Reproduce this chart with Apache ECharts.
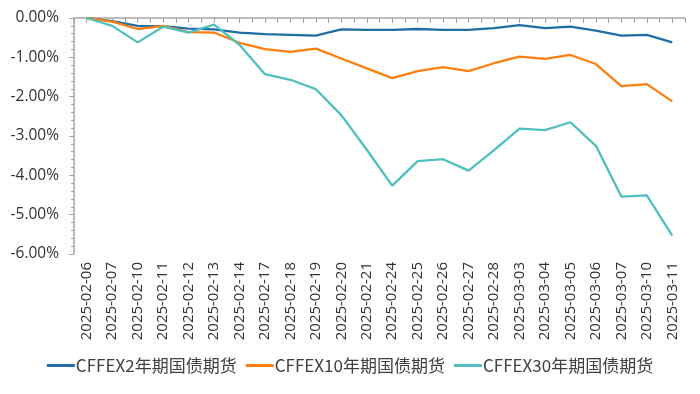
<!DOCTYPE html>
<html>
<head>
<meta charset="utf-8">
<script src="https://cdn.jsdelivr.net/npm/echarts@6/dist/echarts.min.js"></script>
<style>
html,body{margin:0;padding:0;background:#fff;}
#chart{width:700px;height:394px;}
</style>
</head>
<body>
<div id="chart"></div>
<script>
var dates = ['2025-02-06','2025-02-07','2025-02-10','2025-02-11','2025-02-12','2025-02-13','2025-02-14','2025-02-17','2025-02-18','2025-02-19','2025-02-20','2025-02-21','2025-02-24','2025-02-25','2025-02-26','2025-02-27','2025-02-28','2025-03-03','2025-03-04','2025-03-05','2025-03-06','2025-03-07','2025-03-10','2025-03-11'];
var seriesNames = ['CFFEX2年期国债期货','CFFEX10年期国债期货','CFFEX30年期国债期货'];
var y2 = [0,-0.08,-0.20,-0.21,-0.27,-0.29,-0.37,-0.41,-0.43,-0.45,-0.29,-0.30,-0.30,-0.28,-0.30,-0.30,-0.26,-0.18,-0.26,-0.22,-0.32,-0.45,-0.43,-0.62];
var y10 = [0,-0.09,-0.28,-0.20,-0.36,-0.37,-0.63,-0.79,-0.86,-0.78,-1.03,-1.28,-1.53,-1.35,-1.25,-1.35,-1.15,-0.98,-1.04,-0.94,-1.17,-1.73,-1.68,-2.12];
var y30 = [0,-0.20,-0.62,-0.22,-0.37,-0.17,-0.68,-1.43,-1.57,-1.81,-2.47,-3.35,-4.26,-3.64,-3.59,-3.88,-3.36,-2.81,-2.85,-2.65,-3.25,-4.54,-4.51,-5.53];
var yTicks = {min:-6, max:0, interval:1};
var colors = ['#1f6ea6','#ff7f0e','#4fbfbf'];

var axisColor = '#a6a6a6';
var labelColor = '#333333';
var chart = echarts.init(document.getElementById('chart'), null, {renderer:'canvas'});
chart.setOption({
  animation:false,
  color: colors,
  grid:{left:74, right:15, top:18, bottom:140, containLabel:false},
  legend:{
    bottom:15, left:'center',
    icon:'rect', itemWidth:28, itemHeight:3, itemGap:9,
    textStyle:{fontFamily:'Noto Sans CJK SC', fontSize:17, color:'#404040', padding:[0,0,0,-4]},
    data: seriesNames
  },
  xAxis:[{
    type:'category', data:dates, position:'bottom', boundaryGap:true,
    axisLine:{show:false, onZero:false}, axisTick:{show:false},
    axisLabel:{rotate:90, margin:8, fontFamily:'Open Sans', fontSize:15, color:labelColor}
  },{
    type:'value', position:'top', min:0, max:dates.length*2, interval:1,
    axisLine:{show:true, onZero:false, lineStyle:{color:axisColor, width:1.5}},
    axisTick:{show:true, inside:true, length:5, lineStyle:{color:axisColor}},
    axisLabel:{show:false}, splitLine:{show:false}
  }],
  yAxis:{
    type:'value', min:yTicks.min, max:yTicks.max, interval:yTicks.interval,
    axisLine:{show:true, lineStyle:{color:axisColor, width:1.5}},
    axisTick:{show:true, length:5, lineStyle:{color:axisColor}},
    minorTick:{show:true, splitNumber:5, length:3, lineStyle:{color:axisColor}},
    splitLine:{show:false},
    axisLabel:{margin:15, fontFamily:'Open Sans', fontSize:15.5, color:labelColor,
      formatter:function(v){return v.toFixed(2)+'%';}}
  },
  series:[
    {name:seriesNames[0], type:'line', data:y2, symbol:'none', lineStyle:{width:2.3}},
    {name:seriesNames[1], type:'line', data:y10, symbol:'none', lineStyle:{width:2.3}},
    {name:seriesNames[2], type:'line', data:y30, symbol:'none', lineStyle:{width:2.3}}
  ]
});
</script>
</body>
</html>
